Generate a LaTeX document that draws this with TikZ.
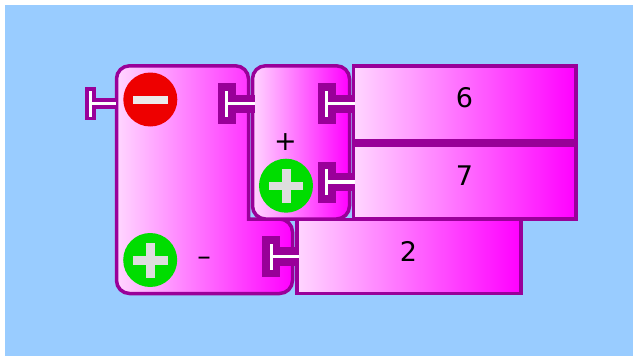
\documentclass[tikz,border=0pt]{standalone}
\usepackage{fontspec}
\setmainfont{DejaVu Sans}
\definecolor{bgblue}{HTML}{99CCFF}
\definecolor{edge}{HTML}{990099}
\definecolor{pale}{HTML}{FFD6FF}
\definecolor{mag}{HTML}{FF00FF}
\definecolor{redc}{HTML}{EE0000}
\definecolor{greenc}{HTML}{00DD00}
\definecolor{signlight}{HTML}{DDDDDD}
\tikzset{
  blockshape/.style={draw=edge,line width=3.5pt,left color=pale,right color=mag,line join=miter},
  roundbit/.style={rounded corners=13pt},
  redbtn/.style={circle,fill=redc,minimum size=54pt,inner sep=0pt,draw=none},
  greenbtn/.style={circle,fill=greenc,minimum size=54pt,inner sep=0pt,draw=none},
  lbl/.style={inner sep=0pt,text=black,font=\fontsize{27pt}{27pt}\selectfont},
}
% \teeshape{x of bar left}{y centre}{stroke}{stem end x}
\newcommand{\teeshape}[4]{%
  \fill[edge] (#1-#3,#2-13-#3) rectangle (#1+3.3+#3,#2+13+#3);
  \fill[edge] (#1+3.3,#2-1.65-#3) rectangle (#4,#2+1.65+#3);
  \fill[white] (#1,#2-13) rectangle (#1+3.3,#2+13);
  \fill[white] (#1+3.3,#2-1.65) rectangle (#4,#2+1.65);
}
\newcommand{\plussign}[2]{%
  \fill[signlight] (#1-17.3,#2-4.2) rectangle (#1+17.3,#2+4.2);
  \fill[signlight] (#1-4.5,#2-17.3) rectangle (#1+4.5,#2+17.3);
}
\begin{document}
\begin{tikzpicture}[x=1pt,y=-1pt]
\useasboundingbox (0,0) rectangle (638,356);
\fill[bgblue] (5,5) rectangle (633,356);
% main block
\path[blockshape] (116.5,150) [roundbit] -- (116.5,65.8) -- (248.5,65.8) -- (248.5,150) [sharp corners] -- (248.5,219) -- (270,219) [roundbit] -- (292.5,219) -- (292.5,293.5) -- (116.5,293.5) -- cycle;
% second block
\path[blockshape,roundbit] (252.5,140) -- (252.5,65.8) -- (349.5,65.8) -- (349.5,219) -- (252.5,219) -- cycle;
% value blocks
\path[blockshape] (353.5,65.8) rectangle (576,141);
\path[blockshape] (353.5,145) rectangle (576,219);
\path[blockshape] (297,219.5) rectangle (521,293.5);
% tees
\teeshape{89}{103.7}{3.7}{116}
\teeshape{225}{103.7}{7.5}{255}
\teeshape{325}{103.7}{7.5}{355}
\teeshape{325}{182}{7.5}{355}
\teeshape{269.5}{256.5}{7.5}{299}
% buttons
\node[redbtn] (minusbtn) at (150.3,99.5) {};
\fill[signlight!60!white] (132.7,95.7) rectangle (167.7,104.3);
\node[greenbtn] (plusbtnb) at (286,185.7) {};
\plussign{286}{186}
\node[greenbtn] (plusbtna) at (150.2,260) {};
\plussign{150.2}{260.3}
% labels
\node[lbl] (six) at (464.5,98) {6};
\node[lbl] (seven) at (464.5,176) {7};
\node[lbl] (two) at (408.5,251) {2};
\node[lbl] (plustxt) at (285.5,142.5) {+};
\node[lbl] (minustxt) at (204,261.5) {–};
\end{tikzpicture}
\end{document}
